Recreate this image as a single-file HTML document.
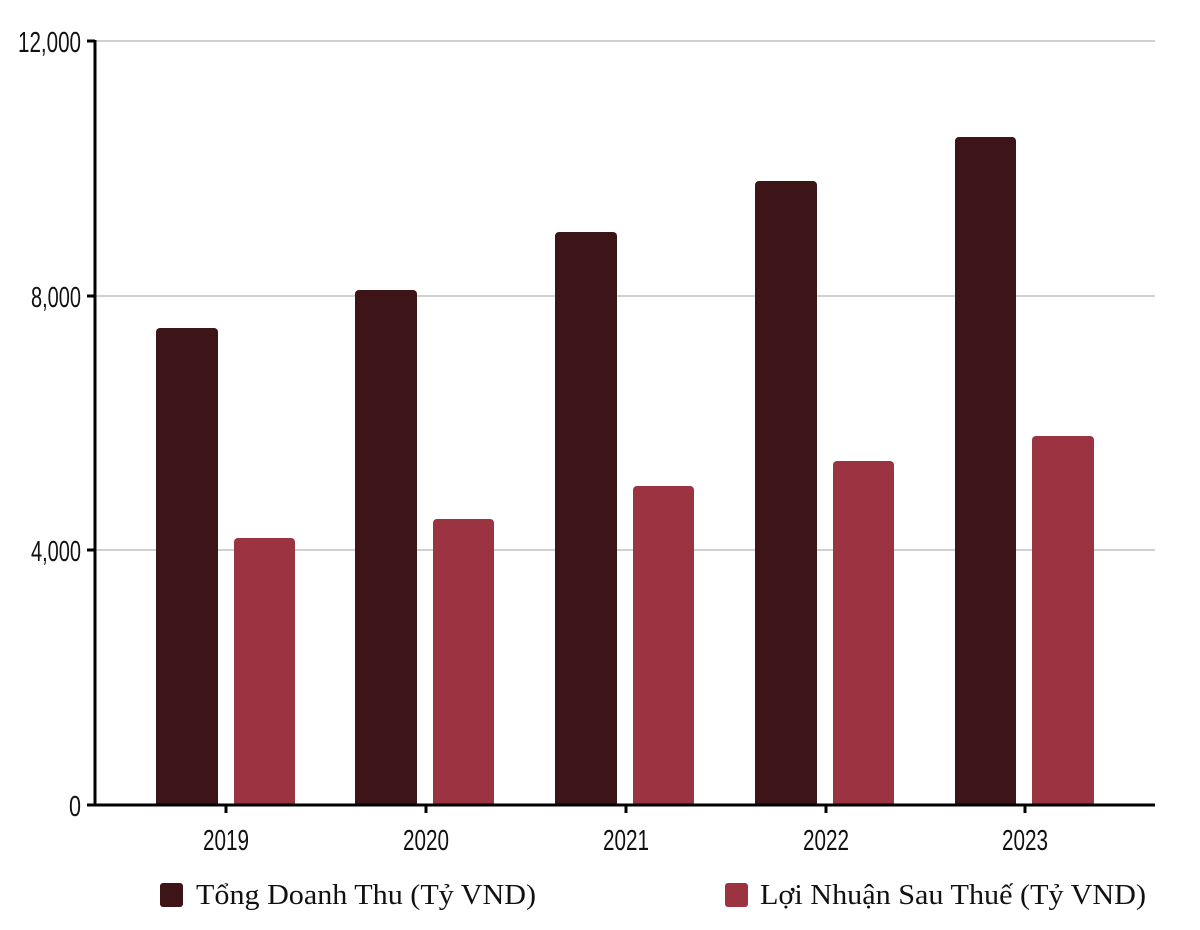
<!DOCTYPE html>
<html><head><meta charset="utf-8"><style>html,body{margin:0;padding:0;background:#fff}</style></head>
<body>
<svg width="1200" height="925" viewBox="0 0 1200 925" xmlns="http://www.w3.org/2000/svg">
<defs><clipPath id="c"><rect x="0" y="0" width="1200" height="804"/></clipPath></defs>
<g stroke="#d0d0d0" stroke-width="2">
<line x1="95" y1="41" x2="1155" y2="41"/>
<line x1="95" y1="296" x2="1155" y2="296"/>
<line x1="95" y1="550" x2="1155" y2="550"/>
</g>
<g clip-path="url(#c)">
<g fill="#3d1418">
<rect x="156" y="328" width="62" height="482" rx="4"/>
<rect x="355" y="290" width="62" height="520" rx="4"/>
<rect x="555" y="232" width="62" height="578" rx="4"/>
<rect x="755" y="181" width="62" height="629" rx="4"/>
<rect x="955" y="137" width="61" height="673" rx="4"/>
</g>
<g fill="#9b3340">
<rect x="234" y="538" width="61" height="272" rx="4"/>
<rect x="433" y="519" width="61" height="291" rx="4"/>
<rect x="633" y="486" width="61" height="324" rx="4"/>
<rect x="833" y="461" width="61" height="349" rx="4"/>
<rect x="1032" y="436" width="62" height="374" rx="4"/>
</g>
</g>
<g stroke="#000" stroke-width="3">
<line x1="95" y1="40" x2="95" y2="806"/>
<line x1="87" y1="805" x2="1155" y2="805"/>
<line x1="87" y1="41" x2="95" y2="41"/>
<line x1="87" y1="296" x2="95" y2="296"/>
<line x1="87" y1="550" x2="95" y2="550"/>
<line x1="226" y1="805" x2="226" y2="813"/>
<line x1="426" y1="805" x2="426" y2="813"/>
<line x1="626" y1="805" x2="626" y2="813"/>
<line x1="826" y1="805" x2="826" y2="813"/>
<line x1="1025" y1="805" x2="1025" y2="813"/>
</g>
<g font-family="Liberation Sans, sans-serif" font-size="29" fill="#111" text-anchor="end">
<text x="81" y="52" textLength="63" lengthAdjust="spacingAndGlyphs">12,000</text>
<text x="81" y="307" textLength="50" lengthAdjust="spacingAndGlyphs">8,000</text>
<text x="81" y="561" textLength="50" lengthAdjust="spacingAndGlyphs">4,000</text>
<text x="81" y="816" textLength="12" lengthAdjust="spacingAndGlyphs">0</text>
</g>
<g font-family="Liberation Sans, sans-serif" font-size="29" fill="#111" text-anchor="middle">
<text x="226" y="850" textLength="46" lengthAdjust="spacingAndGlyphs">2019</text>
<text x="426" y="850" textLength="46" lengthAdjust="spacingAndGlyphs">2020</text>
<text x="626" y="850" textLength="46" lengthAdjust="spacingAndGlyphs">2021</text>
<text x="826" y="850" textLength="46" lengthAdjust="spacingAndGlyphs">2022</text>
<text x="1025" y="850" textLength="46" lengthAdjust="spacingAndGlyphs">2023</text>
</g>
<rect x="160" y="883" width="23" height="24" rx="3" fill="#3d1418"/>
<rect x="725" y="883" width="23" height="24" rx="3" fill="#9b3340"/>
<g font-family="Liberation Serif, serif" font-size="28" fill="#111">
<text x="196" y="904" textLength="340" lengthAdjust="spacingAndGlyphs">Tổng Doanh Thu (Tỷ VND)</text>
<text x="760" y="904" textLength="386" lengthAdjust="spacingAndGlyphs">Lợi Nhuận Sau Thuế (Tỷ VND)</text>
</g>
</svg>
</body></html>
